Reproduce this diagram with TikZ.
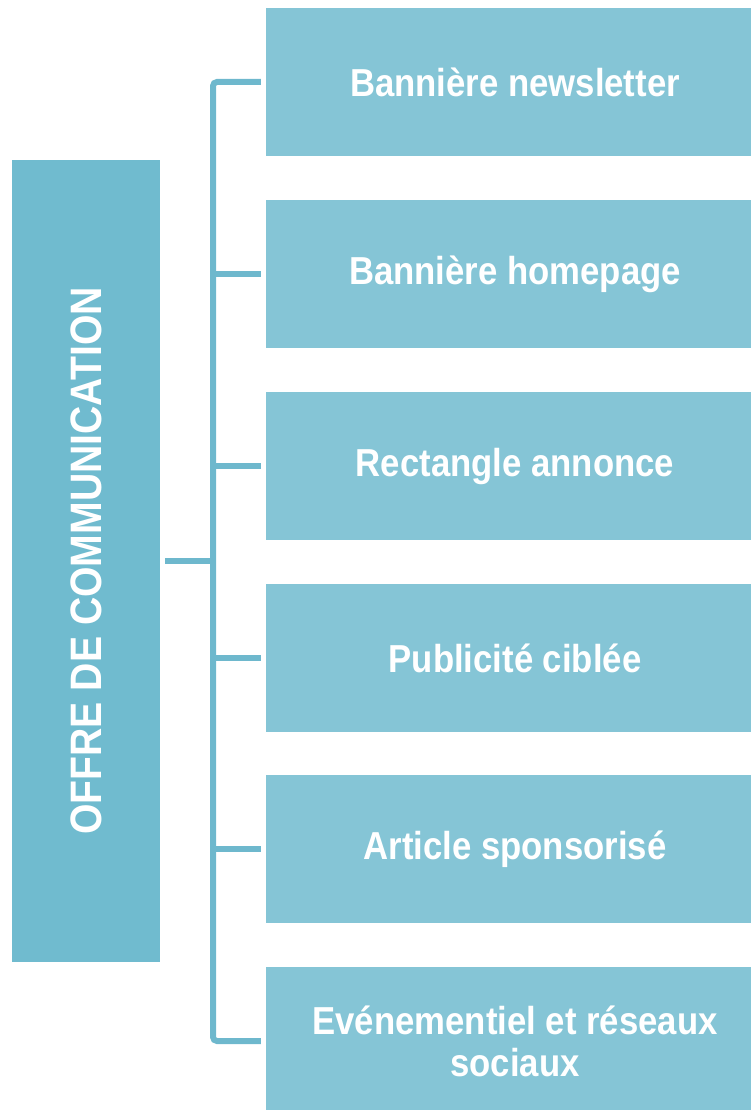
\documentclass[tikz,border=0pt]{standalone}
\usepackage{fontspec}
\setmainfont{Liberation Sans}[FakeStretch=0.89]
\definecolor{leftc}{HTML}{70BBCF}
\definecolor{rightc}{HTML}{85C5D6}
\definecolor{linec}{HTML}{6EB8CD}
\begin{document}
\begin{tikzpicture}[x=1pt,y=-1pt,
  itembox/.style={fill=rightc, draw=none, minimum width=498pt, minimum height=148pt, inner sep=0pt,
    text=white, align=center, font=\fontsize{39}{42}\selectfont\bfseries},
  mainbox/.style={fill=leftc, draw=none, minimum width=148pt, minimum height=802pt, inner sep=0pt,
    text=white, font=\fontsize{44}{48}\selectfont\bfseries},
  conn/.style={draw=linec, line width=6pt}]
\useasboundingbox (0,0) rectangle (750,1110);
\node[mainbox] (L) at (86,561) {\rotatebox{90}{OFFRE DE COMMUNICATION}};
\node[itembox] (b1) at (515,82) {Bannière newsletter};
\node[itembox] (b2) at (515,274) {Bannière homepage};
\node[itembox] (b3) at (515,466) {Rectangle annonce};
\node[itembox] (b4) at (515,658) {Publicité ciblée};
\node[itembox] (b5) at (515,849) {Article sponsorisé};
\node[itembox] (b6) at (515,1041) {Evénementiel et réseaux\\sociaux};
\coordinate (sp) at (213,0);
\draw[conn] ([xshift=5pt]L.east) -- (L.east -| sp);
\draw[conn, rounded corners=4pt] ([xshift=-5pt]b1.west) -- (b1.west -| sp) -- (b6.west -| sp) -- ([xshift=-5pt]b6.west);
\foreach \i in {2,3,4,5} {
  \draw[conn] (b\i.west -| sp) -- ([xshift=-5pt]b\i.west);
}
\end{tikzpicture}
\end{document}
